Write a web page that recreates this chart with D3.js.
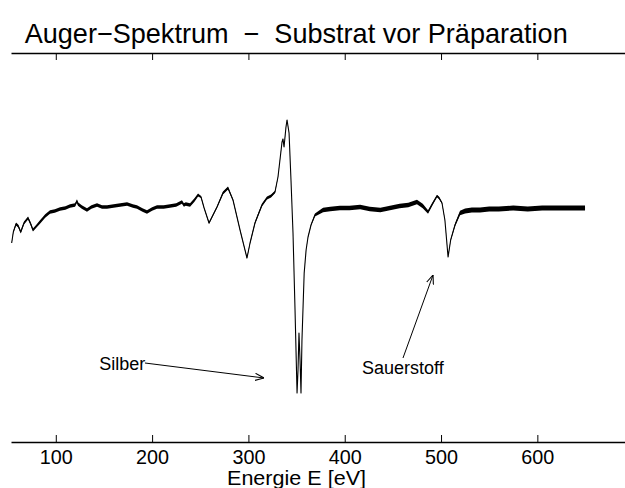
<!DOCTYPE html>
<html>
<head>
<meta charset="utf-8">
<script src="https://cdn.jsdelivr.net/npm/d3@7"></script>
<style>
  body { margin: 0; background: #fff; }
  text { font-family: "Liberation Sans", Arial, Helvetica, sans-serif; fill: #000; }
</style>
</head>
<body>
<div id="chart"></div>
<script>
// 1: DATA
const energy = [54.2, 55.9, 58.7, 61, 63.6, 67, 71.2, 74, 76.3, 80,
    83.6, 89, 94, 99, 104.4, 110, 114.8, 120, 122, 123,
    127, 132.4, 137, 142.8, 148, 153.2, 160, 167, 174, 180,
    184.3, 190, 194.7, 200, 205.1, 212, 218.6, 225, 231, 233,
    235, 239.4, 244, 247.7, 250.8, 254, 259.1, 267.4, 273.6, 278.8,
    284, 291.3, 298.5, 301.7, 306.8, 310, 314.1, 319.3, 323.5, 327.6,
    330.7, 334.9, 335.9, 337, 339, 340.1, 342.2, 344.2, 346.3, 348.4,
    350.5, 351.5, 352.5, 353.6, 354.6, 355.6, 357.9, 359.9, 361.9, 365,
    369.1, 377.5, 385, 395, 405, 416, 426, 437, 447, 457,
    466, 475, 481, 486.5, 491, 495.8, 498, 501, 504, 507.3,
    510, 514.5, 519.7, 525, 532, 540.5, 550, 560, 575, 590,
    605, 620, 635, 649.5];

// dN/dE signal, arbitrary units
const signal = [-0.33, -0.22, -0.14, -0.16, -0.22, -0.13, -0.08, -0.14, -0.20, -0.16,
    -0.12, -0.06, -0.02, -0.01, 0.01, 0.02, 0.04, 0.05, 0.09, 0.06,
    0.03, 0.00, 0.03, 0.05, 0.03, 0.03, 0.04, 0.05, 0.06, 0.04,
    0.03, 0.00, -0.02, 0.01, 0.03, 0.03, 0.04, 0.05, 0.08, 0.05,
    0.06, 0.05, 0.10, 0.15, 0.13, 0.02, -0.13, 0.03, 0.17, 0.22,
    0.10, -0.20, -0.48, -0.33, -0.13, -0.05, 0.05, 0.12, 0.14, 0.18,
    0.33, 0.68, 0.71, 0.63, 0.83, 0.90, 0.77, 0.30, -0.23, -1.00,
    -1.83, -1.60, -1.23, -1.50, -1.83, -1.30, -0.63, -0.40, -0.27, -0.15,
    -0.05, 0.00, 0.01, 0.02, 0.02, 0.03, 0.01, 0.00, 0.02, 0.04,
    0.05, 0.08, 0.04, -0.02, 0.06, 0.14, 0.12, 0.07, -0.10, -0.47,
    -0.30, -0.15, -0.03, -0.01, 0.00, 0.00, 0.01, 0.01, 0.02, 0.01,
    0.02, 0.02, 0.02, 0.02];

// half width of the noise band around the signal
const noise = [0.005, 0.01, 0.014, 0.014, 0.014, 0.014, 0.014, 0.014, 0.014, 0.014,
    0.018, 0.018, 0.018, 0.018, 0.018, 0.018, 0.018, 0.018, 0.018, 0.018,
    0.018, 0.018, 0.018, 0.018, 0.018, 0.018, 0.018, 0.018, 0.018, 0.018,
    0.018, 0.018, 0.018, 0.018, 0.018, 0.018, 0.018, 0.018, 0.018, 0.018,
    0.018, 0.018, 0.018, 0.014, 0.01, 0.008, 0.01, 0.01, 0.014, 0.016,
    0.01, 0.008, 0.008, 0.01, 0.012, 0.016, 0.016, 0.016, 0.016, 0.012,
    0.006, 0.004, 0.004, 0.004, 0.004, 0.004, 0.003, 0.002, 0.002, 0.002,
    0.002, 0.002, 0.002, 0.002, 0.002, 0.002, 0.002, 0.002, 0.004, 0.008,
    0.014, 0.022, 0.022, 0.022, 0.022, 0.022, 0.022, 0.022, 0.022, 0.022,
    0.022, 0.022, 0.022, 0.018, 0.016, 0.012, 0.012, 0.01, 0.005, 0.004,
    0.008, 0.014, 0.022, 0.024, 0.024, 0.024, 0.024, 0.024, 0.024, 0.024,
    0.024, 0.024, 0.024, 0.024];

const xTicks = [100, 200, 300, 400, 500, 600];
const xDomain = [53.5, 691];
const yDomain = [-2.32, 1.57];

// annotations: label position and arrow from/to, in data units
const notes = [
    { label: "Silber", tx: 145.2, ty: -1.60, x1: 192.6, y1: -1.53, x2: 316.2, y2: -1.68 },
    { label: "Sauerstoff", tx: 417.9, ty: -1.64, x1: 460.5, y1: -1.48, x2: 491.7, y2: -0.65 }
];

const data = energy.map((e, i) => ({ e, v: signal[i], n: noise[i] }));

// 2: SVG
const W = 625, H = 488;
const svg = d3.select("#chart").append("svg")
    .attr("width", W)
    .attr("height", H);

const defs = svg.append("defs");
defs.append("marker")
    .attr("id", "head")
    .attr("viewBox", "0 0 10 10")
    .attr("refX", 10).attr("refY", 5)
    .attr("markerWidth", 9).attr("markerHeight", 9)
    .attr("markerUnits", "userSpaceOnUse")
    .attr("orient", "auto")
    .append("path")
    .attr("d", "M0,1 L10,5 L0,9")
    .attr("fill", "none")
    .attr("stroke", "#000")
    .attr("stroke-width", 1.2);

// 3: SCALES
const xScale = d3.scaleLinear().domain(xDomain).range([11, 625]);
const yScale = d3.scaleLinear().domain(yDomain).range([442, 53]);

// 4: PLOT
const band = d3.area()
    .x(d => xScale(d.e))
    .y0(d => yScale(d.v - d.n))
    .y1(d => yScale(d.v + d.n));

const line = d3.line()
    .x(d => xScale(d.e))
    .y(d => yScale(d.v));

svg.append("path")
    .datum(data)
    .attr("fill", "#000")
    .attr("d", band);

svg.append("path")
    .datum(data)
    .attr("fill", "none")
    .attr("stroke", "#000")
    .attr("stroke-width", 1.1)
    .attr("stroke-linejoin", "round")
    .attr("d", line);

// 5: AXES (top and bottom only)
const topAxis = svg.append("g")
    .attr("transform", `translate(0,${yScale(yDomain[1])})`)
    .call(d3.axisTop(xScale).tickValues(xTicks).tickSize(-7).tickSizeOuter(0).tickFormat(""));

const bottomAxis = svg.append("g")
    .attr("transform", `translate(0,${yScale(yDomain[0])})`)
    .call(d3.axisBottom(xScale).tickValues(xTicks).tickSize(-7).tickSizeOuter(0).tickPadding(7));

[topAxis, bottomAxis].forEach(g => {
    g.select(".domain").attr("stroke", "#000").attr("stroke-width", 1.4);
    g.selectAll(".tick line").attr("stroke", "#000").attr("stroke-width", 1);
});
bottomAxis.selectAll(".tick text")
    .attr("font-size", 21)
    .attr("font-family", "Liberation Sans, Arial, sans-serif")
    .attr("textLength", 33)
    .attr("lengthAdjust", "spacingAndGlyphs")
    .attr("fill", "#000");

// 6: LABELS
svg.append("text")
    .attr("x", 296.5)
    .attr("y", 485)
    .attr("text-anchor", "middle")
    .attr("font-size", 21)
    .attr("textLength", 139)
    .attr("lengthAdjust", "spacingAndGlyphs")
    .text("Energie E [eV]");

svg.append("text")
    .attr("x", 24.7)
    .attr("y", 43)
    .attr("font-size", 28)
    .attr("textLength", 543)
    .attr("lengthAdjust", "spacingAndGlyphs")
    .style("white-space", "pre")
    .text("Auger\u2212Spektrum  \u2212  Substrat vor Präparation");

// annotations
notes.forEach(n => {
    svg.append("text")
        .attr("x", xScale(n.tx))
        .attr("y", yScale(n.ty))
        .attr("font-size", 18)
        .text(n.label);
    svg.append("line")
        .attr("x1", xScale(n.x1)).attr("y1", yScale(n.y1))
        .attr("x2", xScale(n.x2)).attr("y2", yScale(n.y2))
        .attr("stroke", "#000")
        .attr("stroke-width", 1)
        .attr("marker-end", "url(#head)");
});
</script>
</body>
</html>
